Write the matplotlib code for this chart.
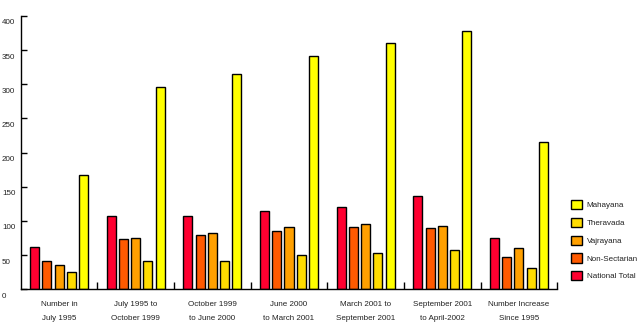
import matplotlib
matplotlib.use('Agg')
import matplotlib.pyplot as plt
from matplotlib.transforms import ScaledTranslation
import numpy as np

plt.rcParams['font.family'] = ['Liberation Sans', 'DejaVu Sans']

categories = ['Number in\nJuly 1995', 'July 1995 to\nOctober 1999', 'October 1999\nto June 2000',
              'June 2000\nto March 2001', 'March 2001 to\nSeptember 2001', 'September 2001\nto April-2002',
              'Number Increase\nSince 1995']
series = ['National Total', 'Non-Sectarian', 'Vajrayana', 'Theravada', 'Mahayana']
national_total = [62, 107, 107, 114, 120, 136, 75]
non_sectarian = [41, 73, 79, 85, 91, 89, 48]
vajrayana = [35, 75, 83, 91, 95, 92, 60]
theravada = [26, 41, 42, 50, 53, 57, 31]
mahayana = [167, 296, 315, 342, 360, 378, 215]
values = [national_total, non_sectarian, vajrayana, theravada, mahayana]
colors = ['#FF0030', '#FF5A00', '#FFA000', '#FFDC00', '#FFFF00']

text_color = '#222222'
fs = 5.8

fig = plt.figure(figsize=(6.4, 3.25), dpi=100)
ax = fig.add_axes([20.7 / 640, 35.7 / 325, (557.3 - 20.7) / 640, (289.3 - 16) / 325])

x = np.arange(len(categories)) + 0.5
offsets = [-0.32, -0.16, 0.0, 0.16, 0.32]
bars = []
for vals, off, col, name in zip(values, offsets, colors, series):
    b = ax.bar(x + off, vals, width=0.1175, color=col, edgecolor='black', linewidth=1.0, label=name)
    bars.append(b)

ax.set_xlim(0, 7)
ax.set_ylim(0, 400)

for side in ['top', 'right']:
    ax.spines[side].set_visible(False)
for side in ['left', 'bottom']:
    ax.spines[side].set_linewidth(1.0)

# y axis: inward ticks, labels to the left and slightly below the tick
ax.set_yticks(np.arange(0, 401, 50))
ax.tick_params(axis='y', direction='in', length=4, width=1, pad=13.5, labelsize=fs, labelcolor=text_color)
for lab in ax.get_yticklabels():
    lab.set_horizontalalignment('left')
    lab.set_transform(lab.get_transform() + ScaledTranslation(0, -6 / 100, fig.dpi_scale_trans))

# x axis: labels at group centres, tick marks at group boundaries
ax.set_xticks(x)
ax.set_xticklabels(categories, linespacing=2.3)
ax.tick_params(axis='x', which='major', length=0, pad=8.5, labelsize=fs, labelcolor=text_color)
ax.set_xticks(np.arange(1, 8), minor=True)
ax.tick_params(axis='x', which='minor', direction='in', length=5, width=1)

handles = bars[::-1]
fig.legend(handles, [h.get_label() for h in handles], loc='upper left',
           bbox_to_anchor=(570.7 / 640, 1 - 200 / 325), frameon=False, fontsize=fs,
           handlelength=1.37, handleheight=1.37, labelspacing=1.06, handletextpad=0.62,
           borderpad=0, borderaxespad=0, labelcolor=text_color)

fig.savefig('out.png', dpi=100)
